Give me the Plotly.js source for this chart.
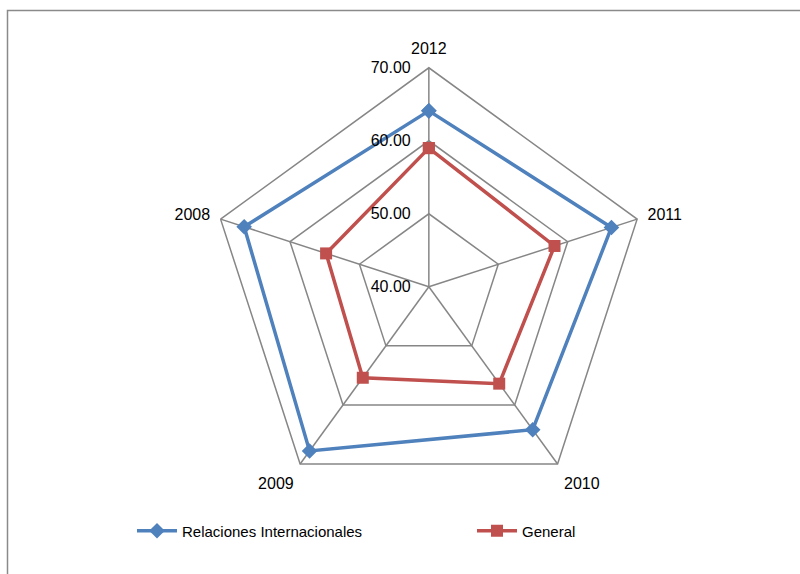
<!DOCTYPE html>
<html>
<head>
<meta charset="utf-8">
<script src="https://cdn.plot.ly/plotly-3.0.1.min.js"></script>
<style>html,body{margin:0;padding:0;background:#fff;}#chart{width:800px;height:574px;}</style>
</head>
<body>
<div id="chart"></div>
<script>
const categories = ["2012", "2011", "2010", "2009", "2008"];
const relacionesInternacionales = [64.1, 66.3, 64.2, 67.8, 66.6];
const general = [59.0, 58.1, 56.4, 55.4, 54.8];
const radialTicks = [40, 50, 60, 70];
const radialTickLabels = ["40.00", "50.00", "60.00", "70.00"];

const closeLoop = a => a.concat([a[0]]);

const traces = [
  {
    type: "scatterpolar",
    name: "Relaciones Internacionales",
    legend: "legend",
    r: closeLoop(relacionesInternacionales),
    theta: closeLoop(categories),
    mode: "lines+markers",
    line: {color: "#4F81BD", width: 3.5},
    marker: {symbol: "diamond", size: 12, color: "#4F81BD"}
  },
  {
    type: "scatterpolar",
    name: "General",
    legend: "legend2",
    r: closeLoop(general),
    theta: closeLoop(categories),
    mode: "lines+markers",
    line: {color: "#C0504D", width: 3.5},
    marker: {symbol: "square", size: 12, color: "#C0504D"}
  }
];

const legendCommon = {
  orientation: "h",
  y: 0.075, xanchor: "left", yanchor: "middle",
  bgcolor: "rgba(0,0,0,0)",
  font: {size: 15},
  itemwidth: 40
};

const cx = 428.85, cy = 286.8, R = 219;
const layout = {
  width: 800, height: 574,
  margin: {l: 0, r: 0, t: 0, b: 0},
  paper_bgcolor: "#fff",
  font: {family: "Liberation Sans, Arial, sans-serif", size: 16, color: "#000"},
  showlegend: true,
  legend: Object.assign({}, legendCommon, {x: 0.165}),
  legend2: Object.assign({}, legendCommon, {x: 0.59}),
  polar: {
    domain: {x: [(cx - R) / 800, (cx + R) / 800], y: [(574 - cy - R) / 574, (574 - cy + R) / 574]},
    gridshape: "linear",
    bgcolor: "rgba(0,0,0,0)",
    angularaxis: {
      type: "category",
      direction: "clockwise",
      rotation: 90,
      showline: true,
      linecolor: "#868686",
      linewidth: 1.5,
      showgrid: true,
      gridcolor: "#868686",
      gridwidth: 1.5,
      ticks: "outside",
      ticklen: 7,
      tickcolor: "rgba(0,0,0,0)",
      tickfont: {size: 16}
    },
    radialaxis: {
      range: [40, 70],
      angle: 90,
      tickangle: 90,
      side: "counterclockwise",
      tickvals: radialTicks,
      ticktext: radialTickLabels,
      showline: false,
      showgrid: true,
      gridcolor: "#868686",
      gridwidth: 1.5,
      ticks: "outside",
      ticklen: 12,
      tickcolor: "rgba(0,0,0,0)",
      tickfont: {size: 16}
    }
  },
  shapes: [{
    type: "rect", xref: "paper", yref: "paper",
    x0: 7.5 / 800, x1: 1.02, y0: -0.02, y1: (574 - 10.5) / 574,
    line: {color: "#8a8a8a", width: 1.5}
  }]
};

Plotly.newPlot("chart", traces, layout, {displayModeBar: false, staticPlot: true});
</script>
</body>
</html>
